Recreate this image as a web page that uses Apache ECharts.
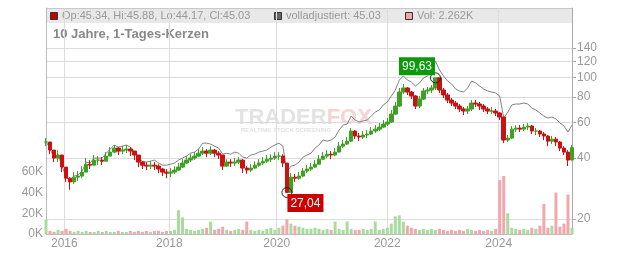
<!DOCTYPE html>
<html>
<head>
<meta charset="utf-8">
<script src="https://cdn.jsdelivr.net/npm/echarts@6/dist/echarts.min.js"></script>
<style>
  html, body { margin: 0; padding: 0; background: #fff; }
  #chart { width: 632px; height: 253px; }
</style>
</head>
<body>
<div id="chart"></div>
<script>
// one sample per ~4 weeks, Sep 2015 .. May 2025
const closes = [
  48.0, 43.8, 40.0, 41.4, 36.1, 31.8, 30.5, 32.2, 32.6, 34.1,
  37.3, 36.9, 39.1, 39.1, 38.6, 40.9, 42.8, 44.8, 43.3, 43.8,
  44.3, 43.3, 41.4, 38.2, 36.9, 36.5, 36.9, 36.5, 35.3, 34.1,
  33.7, 34.1, 34.9, 36.1, 37.8, 39.1, 40.0, 40.9, 42.3, 43.3,
  42.3, 43.8, 42.3, 41.4, 36.5, 38.2, 37.8, 38.2, 39.1, 35.7,
  34.9, 35.7, 36.9, 37.8, 38.6, 39.5, 40.0, 40.9, 40.9, 37.8,
  27.04, 32.2, 31.8, 32.6, 34.5, 35.3, 36.1, 37.3, 39.5, 40.9,
  41.8, 41.4, 42.8, 45.8, 46.9, 48.5, 54.4, 51.4, 50.8, 52.0,
  52.6, 54.4, 55.6, 56.9, 58.9, 60.3, 66.0, 72.3, 84.8, 88.8,
  84.8, 81.0, 72.3, 78.3, 85.8, 86.8, 88.8, 99.63, 86.8, 82.0,
  77.4, 74.8, 72.3, 69.9, 68.3, 69.9, 74.8, 74.0, 72.3, 69.9,
  68.3, 68.3, 66.8, 63.8, 49.1, 50.2, 55.6, 56.3, 55.6, 56.9,
  57.6, 54.4, 54.4, 52.6, 51.4, 48.5, 49.6, 48.0, 44.8, 42.8,
  39.1, 45.03
]

const highs = [
  50.2, 46.4, 42.8, 43.8, 38.2, 34.1, 32.2, 34.1, 34.5, 36.5,
  40.0, 39.1, 41.4, 40.9, 40.4, 42.8, 45.3, 46.4, 45.3, 45.8,
  46.4, 45.3, 43.3, 40.4, 38.6, 38.2, 38.6, 38.2, 37.3, 35.7,
  35.3, 35.7, 36.5, 37.8, 39.5, 40.9, 41.8, 42.8, 44.3, 45.3,
  44.3, 45.8, 44.3, 43.3, 41.4, 39.5, 39.5, 40.0, 40.4, 39.5,
  36.5, 37.3, 38.6, 39.5, 40.4, 41.4, 41.8, 42.8, 42.8, 41.8,
  37.8, 33.7, 33.4, 34.1, 35.7, 36.9, 37.8, 39.1, 41.4, 42.8,
  43.8, 43.3, 44.8, 48.0, 49.1, 50.8, 56.3, 55.0, 53.2, 54.4,
  55.0, 56.9, 58.2, 59.6, 61.7, 63.1, 69.1, 75.7, 88.8, 92.9,
  89.8, 85.8, 82.0, 81.0, 88.8, 89.8, 91.9, 99.63, 97.2, 88.8,
  83.9, 79.2, 76.6, 74.0, 71.5, 72.3, 77.4, 77.4, 75.7, 74.0,
  71.5, 71.5, 69.9, 67.5, 63.8, 52.0, 57.6, 58.2, 58.2, 58.9,
  59.6, 58.2, 56.3, 55.0, 53.8, 52.0, 51.4, 50.8, 48.5, 45.8,
  43.8, 46.4
]

const lows = [
  45.8, 41.8, 38.2, 38.2, 34.1, 30.5, 27.9, 29.8, 30.8, 31.8,
  34.9, 35.3, 37.3, 36.9, 36.9, 39.1, 40.9, 42.3, 41.4, 41.8,
  42.3, 40.9, 39.1, 36.1, 35.3, 34.9, 35.3, 34.9, 33.7, 32.6,
  31.8, 32.2, 33.4, 34.5, 35.7, 37.3, 38.2, 39.1, 40.4, 41.4,
  40.4, 41.4, 40.4, 39.5, 34.9, 36.1, 36.1, 36.5, 37.3, 33.7,
  33.4, 34.1, 35.3, 36.1, 36.9, 37.8, 38.2, 39.1, 39.1, 36.1,
  27.04, 29.5, 30.5, 31.2, 32.2, 33.7, 34.5, 35.7, 37.3, 39.1,
  40.0, 39.5, 40.9, 42.8, 44.8, 46.4, 48.0, 49.6, 48.5, 49.6,
  50.2, 52.0, 53.2, 54.4, 56.3, 57.6, 59.6, 65.3, 71.5, 82.9,
  82.0, 78.3, 69.9, 70.7, 77.4, 82.9, 83.9, 86.8, 83.9, 79.2,
  74.8, 72.3, 69.9, 67.5, 65.3, 66.0, 68.3, 71.5, 69.1, 67.5,
  66.0, 66.0, 64.5, 61.7, 47.4, 48.0, 49.6, 53.8, 53.8, 54.4,
  55.0, 52.6, 52.0, 50.8, 49.1, 45.8, 46.9, 45.8, 43.3, 41.4,
  36.5, 39.1
]

const adjusted = [
  48.5, 44.3, 40.4, 41.8, 36.5, 32.2, 30.8, 32.6, 33.0, 34.5,
  38.2, 37.8, 40.0, 40.0, 40.0, 42.3, 44.3, 46.4, 45.3, 45.8,
  46.4, 45.3, 43.3, 40.4, 38.6, 38.2, 38.6, 39.1, 37.8, 36.9,
  36.9, 37.3, 37.8, 39.1, 40.0, 40.9, 42.3, 42.8, 44.3, 47.4,
  47.4, 46.9, 45.8, 44.8, 41.8, 42.3, 41.8, 42.8, 42.3, 40.4,
  40.0, 41.4, 41.8, 42.8, 43.3, 43.8, 45.3, 46.4, 47.4, 45.8,
  34.1, 36.5, 36.9, 38.2, 40.4, 41.4, 42.3, 44.8, 46.4, 49.1,
  48.5, 49.1, 50.8, 55.0, 58.2, 58.9, 64.5, 61.7, 60.3, 61.0,
  61.7, 64.5, 67.5, 69.1, 73.2, 75.7, 81.0, 86.8, 97.2, 101.8,
  97.2, 95.0, 90.8, 94.0, 99.5, 101.8, 106.5, 120.7, 108.9, 101.8,
  96.1, 92.9, 87.8, 85.8, 84.8, 88.8, 96.1, 94.0, 90.8, 87.8,
  85.8, 84.8, 83.9, 81.0, 63.1, 67.5, 73.2, 74.0, 74.0, 74.8,
  74.0, 70.7, 69.1, 66.8, 64.5, 63.1, 63.8, 62.4, 59.6, 57.6,
  53.8, 58.2
]

// volume in thousands
const volumes = [
  14, 3, 2, 4, 3, 5, 3, 2, 3, 2,
  3, 2, 2, 3, 2, 3, 2, 2, 3, 2,
  2, 3, 2, 3, 2, 3, 2, 3, 3, 2,
  3, 3, 4, 23, 16, 5, 4, 3, 4, 5,
  6, 12, 4, 5, 7, 4, 3, 4, 5, 4,
  12, 4, 3, 4, 3, 5, 6, 4, 6, 8,
  14, 10, 8, 7, 6, 5, 5, 6, 5, 4,
  5, 4, 12, 5, 4, 12, 5, 4, 4, 5,
  4, 5, 12, 4, 5, 6, 10, 17, 18, 12,
  8, 6, 5, 4, 5, 4, 5, 4, 5, 4,
  3, 4, 3, 4, 3, 5, 4, 3, 4, 3,
  4, 3, 5, 52, 56, 20, 6, 5, 4, 5,
  4, 6, 5, 8, 29, 6, 8, 40, 7, 10,
  38, 6
]

// first trading day of each labelled year, in sample units
const yearStarts = [4.56, 30.71, 57.46, 85.0, 112.75]
const yearLabels = ["2016", "2018", "2020", "2022", "2024"]
const priceTicks = [20, 40, 60, 80, 100, 120, 140]

const UP = "#3fa124"
const DOWN = "#cc1111"
const FONT = '"Liberation Sans", Arial, sans-serif'

const candles = closes.map((c, i) => {
  const o = i === 0 ? c : closes[i - 1]
  return [i, o, c, Math.min(lows[i], o, c), Math.max(highs[i], o, c)]
})

const iMax = highs.indexOf(Math.max(...highs))
const iMin = lows.indexOf(Math.min(...lows))
const fmt = (v) => v.toFixed(2).replace(".", ",")

const chart = echarts.init(document.getElementById("chart"))

chart.setOption({
  animation: false,
  textStyle: { fontFamily: FONT },
  grid: { left: 46, right: 60, top: 8, bottom: 19 },
  xAxis: {
    type: "value",
    min: 0,
    max: closes.length - 1,
    axisLine: { lineStyle: { color: "#bbb" } },
    axisTick: { show: false, customValues: yearStarts },
    axisLabel: {
      customValues: yearStarts,
      color: "#999",
      fontSize: 12,
      margin: 4,
      formatter: (v) => {
        const k = yearStarts.findIndex((s) => Math.abs(s - v) < 0.01)
        return k >= 0 ? yearLabels[k] : ""
      },
    },
    splitLine: { show: true, lineStyle: { color: "#dcdcdc" } },
  },
  yAxis: [
    {
      type: "value",
      min: 0,
      max: 218,
      interval: 20,
      position: "left",
      axisLine: { show: true, lineStyle: { color: "#bbb" } },
      axisTick: { show: false },
      axisLabel: {
        color: "#999",
        fontSize: 12,
        margin: 3,
        formatter: (v) => (v <= 60 ? v + "K" : ""),
      },
      splitLine: { show: false },
    },
    {
      type: "log",
      logBase: 10,
      min: 16.86,
      max: 220.6,
      position: "right",
      axisLine: { show: true, lineStyle: { color: "#aaa" } },
      axisTick: {
        show: true,
        length: 4,
        customValues: priceTicks,
        lineStyle: { color: "#aaa" },
      },
      axisLabel: {
        customValues: priceTicks,
        color: "#999",
        fontSize: 12,
        margin: 5,
      },
      splitLine: { show: true, lineStyle: { color: "#dcdcdc" } },
    },
  ],
  graphic: [
    {
      type: "rect",
      z: -1,
      shape: { x: 46, y: 8, width: 526, height: 15 },
      style: { fill: "#e8e8e8" },
    },
    {
      type: "line",
      z: -1,
      shape: { x1: 46, y1: 8.5, x2: 572, y2: 8.5 },
      style: { stroke: "#c8c8c8", lineWidth: 1 },
    },
    {
      type: "rect",
      shape: { x: 50.5, y: 12.5, width: 7, height: 7 },
      style: { fill: "#c00000", stroke: "#333", lineWidth: 1 },
    },
    {
      type: "text",
      x: 62,
      y: 16,
      style: {
        text: "Op:45.34, Hi:45.88, Lo:44.17, Cl:45.03",
        fill: "#999",
        font: "11px " + FONT,
        verticalAlign: "middle",
      },
    },
    {
      type: "rect",
      shape: { x: 274.5, y: 12.5, width: 7, height: 7 },
      style: { fill: "#666", stroke: "#333", lineWidth: 1 },
    },
    {
      type: "text",
      x: 286,
      y: 16,
      style: {
        text: "volladjustiert: 45.03",
        fill: "#999",
        font: "11px " + FONT,
        verticalAlign: "middle",
      },
    },
    {
      type: "rect",
      shape: { x: 405.5, y: 12.5, width: 7, height: 7 },
      style: { fill: "#f2a7ab", stroke: "#333", lineWidth: 1 },
    },
    {
      type: "text",
      x: 417,
      y: 16,
      style: {
        text: "Vol: 2.262K",
        fill: "#999",
        font: "11px " + FONT,
        verticalAlign: "middle",
      },
    },
    {
      type: "text",
      x: 53,
      y: 34,
      style: {
        text: "10 Jahre, 1-Tages-Kerzen",
        fill: "#888",
        font: "bold 13px " + FONT,
        verticalAlign: "middle",
      },
    },
    {
      type: "text",
      z: -1,
      x: 235,
      y: 107,
      style: {
        text: "{a|TRADER}{b|FOX}",
        rich: {
          a: { fill: "#e3e3e3", fontSize: 22, fontWeight: "bold", fontFamily: FONT },
          b: { fill: "#f7d4d4", fontSize: 22, fontWeight: "bold", fontFamily: FONT },
        },
      },
    },
    {
      type: "text",
      z: -1,
      x: 241,
      y: 127,
      style: {
        text: "REALTIME STOCK SCREENING",
        fill: "#e2e2e2",
        font: "bold 6px " + FONT,
      },
    },
  ],
  series: [
    {
      name: "Vol",
      type: "bar",
      yAxisIndex: 0,
      barWidth: 3,
      data: volumes.map((v, i) => ({
        value: [i, v],
        itemStyle: { color: candles[i][2] >= candles[i][1] ? "#a9dba0" : "#f2a7ab" },
      })),
      z: 1,
    },
    {
      name: "volladjustiert",
      type: "line",
      yAxisIndex: 1,
      showSymbol: false,
      lineStyle: { color: "#808080", width: 1 },
      data: adjusted.map((v, i) => [i, v]),
      z: 2,
    },
    {
      name: "Kurs",
      type: "candlestick",
      yAxisIndex: 1,
      barWidth: 4,
      itemStyle: {
        color: UP,
        color0: DOWN,
        borderColor: UP,
        borderColor0: DOWN,
        borderWidth: 1,
      },
      data: candles,
      z: 3,
      markPoint: {
        symbol: "circle",
        symbolSize: 10,
        itemStyle: { color: "rgba(0,0,0,0)", borderColor: "#222", borderWidth: 1 },
        label: {
          show: true,
          color: "#fff",
          fontSize: 12,
          lineHeight: 13,
          padding: [3, 3, 2, 3],
          formatter: (p) => fmt(p.value),
        },
        data: [
          {
            coord: [iMax, highs[iMax]],
            value: highs[iMax],
            label: { backgroundColor: "#0a9a0a", position: [5, 3], align: "right", verticalAlign: "bottom" },
          },
          {
            coord: [iMin, lows[iMin]],
            value: lows[iMin],
            label: { backgroundColor: "#cc0000", position: [6, 7], align: "left", verticalAlign: "top" },
          },
        ],
      },
    },
  ],
})
</script>
</body>
</html>
